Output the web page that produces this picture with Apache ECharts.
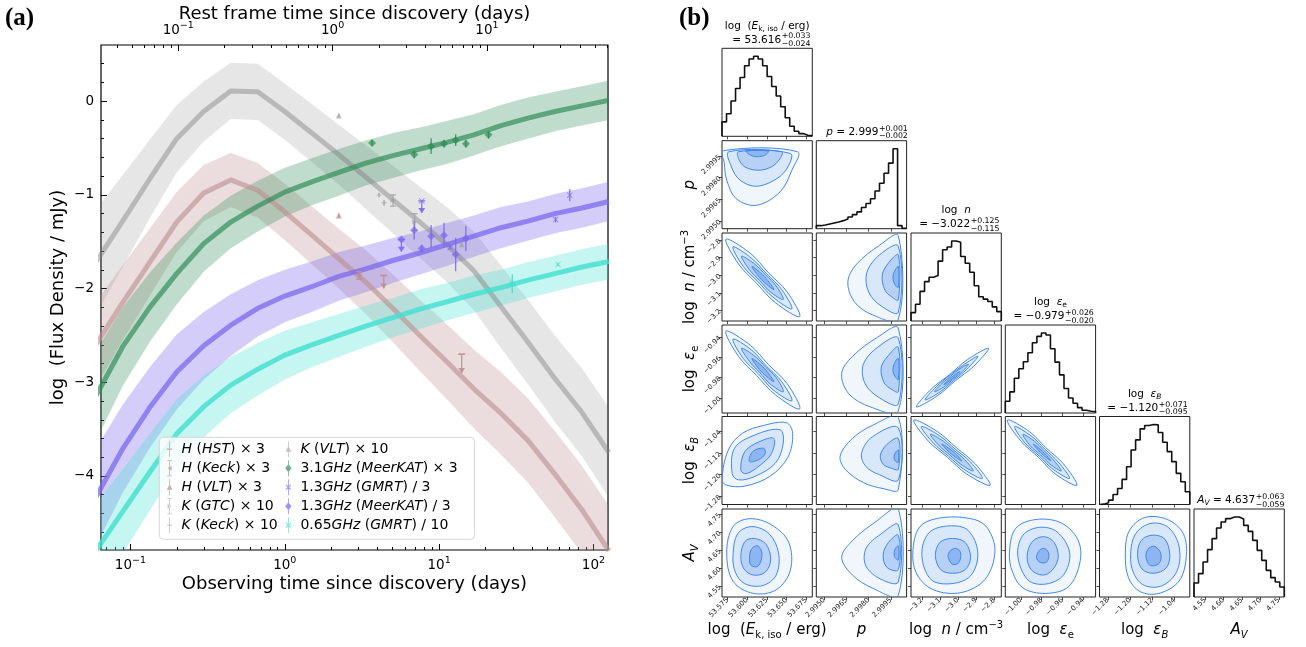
<!DOCTYPE html>
<html><head><meta charset="utf-8">
<script src="https://cdn.jsdelivr.net/npm/echarts@6/dist/echarts.min.js"></script>
<style>html,body{margin:0;padding:0;background:#fff}#c{width:1306px;height:647px}</style>
</head><body><div id="c"></div><script>
const FONT = '"DejaVu Sans", Verdana, sans-serif';

// ================= Panel (a) data =================
const modelTimes = [0.0596, 0.0891, 0.1334, 0.1995, 0.2985, 0.4467, 0.6683, 1.0, 1.496, 2.239, 3.350, 5.012, 7.499, 11.22, 16.79, 25.12, 37.58, 56.23, 84.14, 125.9];
const modelK   = [-1.72, -1.28, -0.83, -0.40, -0.11, 0.11, 0.10, -0.11, -0.34, -0.57, -0.81, -1.05, -1.29, -1.53, -1.81, -2.19, -2.57, -2.96, -3.32, -3.75];
const spreadK  = [0.56, 0.49, 0.42, 0.36, 0.32, 0.30, 0.30, 0.30, 0.31, 0.32, 0.34, 0.36, 0.38, 0.40, 0.42, 0.44, 0.45, 0.46, 0.47, 0.48];
const modelH   = [-2.60, -2.15, -1.72, -1.29, -0.98, -0.84, -0.95, -1.18, -1.43, -1.68, -1.93, -2.21, -2.50, -2.78, -3.07, -3.33, -3.62, -3.98, -4.36, -4.80];
const spreadH  = [0.45, 0.40, 0.36, 0.32, 0.30, 0.29, 0.29, 0.30, 0.31, 0.32, 0.34, 0.36, 0.38, 0.40, 0.42, 0.44, 0.45, 0.46, 0.47, 0.48];
const model31  = [-3.15, -2.62, -2.20, -1.84, -1.52, -1.29, -1.12, -0.97, -0.86, -0.76, -0.66, -0.58, -0.51, -0.44, -0.36, -0.26, -0.18, -0.11, -0.05, 0.01];
const spread31 = [0.48, 0.42, 0.37, 0.33, 0.30, 0.28, 0.27, 0.26, 0.25, 0.25, 0.24, 0.24, 0.23, 0.23, 0.22, 0.22, 0.22, 0.21, 0.21, 0.21];
const model13  = [-4.23, -3.71, -3.27, -2.89, -2.61, -2.39, -2.21, -2.08, -1.98, -1.87, -1.79, -1.70, -1.62, -1.53, -1.44, -1.35, -1.28, -1.20, -1.14, -1.07];
const spread13 = [0.52, 0.47, 0.43, 0.40, 0.36, 0.33, 0.30, 0.28, 0.27, 0.26, 0.25, 0.24, 0.23, 0.23, 0.22, 0.22, 0.21, 0.21, 0.21, 0.21];
const model065 = [-4.80, -4.38, -3.96, -3.55, -3.26, -3.03, -2.86, -2.71, -2.60, -2.50, -2.40, -2.31, -2.22, -2.14, -2.06, -1.99, -1.91, -1.84, -1.77, -1.71];
const spread065= [0.50, 0.45, 0.41, 0.37, 0.33, 0.30, 0.28, 0.26, 0.24, 0.23, 0.22, 0.21, 0.21, 0.20, 0.20, 0.19, 0.19, 0.19, 0.19, 0.19];

// observed points: t (days), v (log mJy), e (error / arrow length), ul (upper limit)
const ptsHHST   = {t:[4.38, 14.0], v:[-1.86, -2.70], e:[0.14, 0.20], ul:[1, 1]};
const ptsHKeck  = {t:[3.03], v:[-1.86], e:[0.04], ul:[0]};
const ptsHVLT   = {t:[2.24], v:[-1.22], e:[0.02], ul:[0]};
const ptsKGTC   = {t:[5.03, 6.95], v:[-1.06, -1.29], e:[0.06, 0.09], ul:[0, 0]};
const ptsKKeck  = {t:[3.03, 4.08, 4.40], v:[-0.76, -1.00, -1.085], e:[0.02, 0.02, 0.03], ul:[0, 0, 0]};
const ptsKVLT   = {t:[2.24, 14.0], v:[-0.153, -1.526], e:[0.02, 0.02], ul:[0, 0]};
const ptsMK31   = {t:[3.68, 6.90, 8.88, 10.76, 12.8, 14.9, 20.9], v:[-0.445, -0.569, -0.480, -0.455, -0.416, -0.455, -0.359], e:[0.03, 0.04, 0.084, 0.04, 0.063, 0.04, 0.04], ul:[0,0,0,0,0,0,0]};
const ptsGM13   = {t:[7.72, 11.8, 56.8, 70.2], v:[-1.064, -1.562, -1.263, -1.003], e:[0.13, 0.02, 0.03, 0.066], ul:[1, 0, 0, 0]};
const ptsMK13   = {t:[5.70, 6.90, 7.72, 8.88, 10.76, 12.8, 14.9], v:[-1.476, -1.377, -1.572, -1.441, -1.430, -1.636, -1.466], e:[0.13, 0.099, 0.04, 0.12, 0.133, 0.18, 0.133], ul:[1,0,0,0,0,0,0]};
const ptsGM065  = {t:[29.8, 58.9], v:[-1.946, -1.743], e:[0.10, 0.02], ul:[0, 0]};

const xMajorBottom = [0.1, 1, 10, 100];
const xMinorBottom = [0.07,0.08,0.09,0.2,0.3,0.4,0.5,0.6,0.7,0.8,0.9,2,3,4,5,6,7,8,9,20,30,40,50,60,70,80,90];
const xMajorTop = [0.1, 1, 10];
const xMinorTop = [0.04,0.05,0.06,0.07,0.08,0.09,0.2,0.3,0.4,0.5,0.6,0.7,0.8,0.9,2,3,4,5,6,7,8,9,20,30,40,50,60];
const yMajor = [-4, -3, -2, -1, 0];
const yMinor = [-4.6,-4.4,-4.2,-3.8,-3.6,-3.4,-3.2,-2.8,-2.6,-2.4,-2.2,-1.8,-1.6,-1.4,-1.2,-0.8,-0.6,-0.4,-0.2,0.2,0.4];

const legendNames = ['H (HST) × 3','H (Keck) × 3','H (VLT) × 3','K (GTC) × 10','K (Keck) × 10','K (VLT) × 10','3.1GHz (MeerKAT) × 3','1.3GHz (GMRT) / 3','1.3GHz (MeerKAT) / 3','0.65GHz (GMRT) / 10'];
const legendRich = ['{i|H} ({i|HST}) × 3','{i|H} ({i|Keck}) × 3','{i|H} ({i|VLT}) × 3','{i|K} ({i|GTC}) × 10','{i|K} ({i|Keck}) × 10','{i|K} ({i|VLT}) × 10','3.1{i|GHz} ({i|MeerKAT}) × 3','1.3{i|GHz} ({i|GMRT}) / 3','1.3{i|GHz} ({i|MeerKAT}) / 3','0.65{i|GHz} ({i|GMRT}) / 10'];

// ================= Panel (b) data =================
const rangeE=[53.568,53.683], rangeP=[2.99447,3.00056], rangeN=[-3.26,-2.76], rangeEe=[-1.015,-0.928], rangeEb=[-1.31,-0.985], rangeAv=[4.52,4.765];
const ticksE=[53.575,53.600,53.625,53.650,53.675], ticksP=[2.9950,2.9965,2.9980,2.9995], ticksN=[-3.2,-3.1,-3.0,-2.9,-2.8], ticksEe=[-1.00,-0.98,-0.96,-0.94], ticksEb=[-1.28,-1.20,-1.12,-1.04], ticksAv=[4.55,4.60,4.65,4.70,4.75];
const histE =[43,67,105,142,175,210,230,238,230,210,178,148,120,88,55,30,15,8,3,2];
const histP =[9,11,14,17,20,24,29,35,42,50,63,75,89,112,135,165,195,238,9,1];
const histN =[25,50,88,117,130,135,178,212,220,238,234,192,172,145,105,72,65,58,42,28];
const histEe=[35,63,104,132,153,180,210,229,239,233,192,152,114,73,45,29,16,8,5,4];
const histEb=[1,5,13,30,48,75,113,163,193,226,236,239,238,215,186,158,128,93,68,38];
const histAv=[42,70,105,142,175,207,225,235,240,240,234,215,197,170,140,110,80,58,45,30];

const cont_p_E = [
 [[53.570,2.99987],[53.664,2.99980],[53.657,2.99852],[53.642,2.99702],[53.612,2.99609],[53.586,2.99655],[53.574,2.99783],[53.571,2.99898]],
 [[53.577,2.99980],[53.655,2.99968],[53.652,2.99875],[53.638,2.99794],[53.612,2.99741],[53.591,2.99783],[53.580,2.99875]],
 [[53.589,2.99980],[53.644,2.99980],[53.642,2.99933],[53.631,2.99875],[53.614,2.99852],[53.597,2.99875],[53.589,2.99933]],
 [[53.599,2.99984],[53.627,2.99984],[53.623,2.99957],[53.613,2.99945],[53.604,2.99957]]];
const cont_n_E = [
 [[53.573,-2.795],[53.604,-2.875],[53.627,-2.985],[53.651,-3.095],[53.667,-3.235],[53.636,-3.156],[53.612,-3.046],[53.589,-2.936]],
 [[53.582,-2.839],[53.606,-2.905],[53.625,-2.993],[53.644,-3.081],[53.657,-3.191],[53.633,-3.125],[53.614,-3.037],[53.595,-2.949]],
 [[53.593,-2.892],[53.610,-2.938],[53.624,-3.0],[53.637,-3.061],[53.646,-3.138],[53.629,-3.092],[53.616,-3.03],[53.603,-2.969]],
 [[53.606,-2.949],[53.622,-3.008],[53.634,-3.081],[53.618,-3.023]]];
const cont_ee_E = [
 [[53.573,-0.934],[53.604,-0.948],[53.627,-0.967],[53.651,-0.986],[53.667,-1.011],[53.636,-0.997],[53.612,-0.978],[53.589,-0.959]],
 [[53.582,-0.942],[53.606,-0.953],[53.625,-0.969],[53.644,-0.984],[53.657,-1.003],[53.633,-0.992],[53.614,-0.976],[53.595,-0.961]],
 [[53.593,-0.951],[53.610,-0.959],[53.624,-0.970],[53.637,-0.980],[53.646,-0.994],[53.629,-0.986],[53.616,-0.975],[53.603,-0.964]],
 [[53.606,-0.961],[53.622,-0.971],[53.634,-0.984],[53.618,-0.974]]];
const cont_eB_E = [
 [[53.568,-1.219],[53.576,-1.109],[53.594,-1.047],[53.621,-1.018],[53.650,-1.008],[53.658,-1.047],[53.652,-1.135],[53.629,-1.206],[53.597,-1.242],[53.574,-1.239]],
 [[53.581,-1.196],[53.584,-1.102],[53.610,-1.053],[53.642,-1.034],[53.646,-1.083],[53.636,-1.157],[53.610,-1.206],[53.589,-1.219]],
 [[53.592,-1.183],[53.597,-1.115],[53.615,-1.079],[53.634,-1.066],[53.631,-1.122],[53.617,-1.164],[53.599,-1.196]],
 [[53.603,-1.151],[53.607,-1.115],[53.621,-1.102],[53.623,-1.122],[53.615,-1.144]]];
const cont_AV_E = [
 [[53.574,4.643],[53.582,4.716],[53.603,4.738],[53.631,4.721],[53.653,4.672],[53.655,4.594],[53.637,4.540],[53.608,4.530],[53.582,4.564]],
 [[53.582,4.635],[53.588,4.696],[53.606,4.716],[53.628,4.696],[53.640,4.643],[53.637,4.581],[53.620,4.552],[53.597,4.557],[53.585,4.589]],
 [[53.592,4.633],[53.597,4.674],[53.609,4.683],[53.624,4.667],[53.630,4.623],[53.623,4.589],[53.608,4.581],[53.596,4.598]],
 [[53.603,4.628],[53.606,4.655],[53.614,4.662],[53.619,4.638],[53.614,4.606],[53.605,4.608]]];
const cont_n_p = [
 [[3.0,-2.775],[2.99873,-2.83],[2.99721,-2.935],[2.99660,-3.035],[2.99703,-3.15],[2.99825,-3.225],[3.0,-3.25]],
 [[3.0,-2.835],[2.99873,-2.885],[2.99788,-2.985],[2.99800,-3.095],[2.99885,-3.175],[3.0,-3.21]],
 [[3.0,-2.885],[2.99934,-2.93],[2.99892,-3.0],[2.99910,-3.085],[2.99959,-3.125],[3.0,-3.14]],
 [[3.0,-2.95],[2.99971,-2.985],[2.99965,-3.025],[2.99983,-3.06],[3.0,-3.07]]];
const cont_ee_p = [
 [[3.0,-0.931],[2.99861,-0.940],[2.99691,-0.959],[2.99618,-0.976],[2.99666,-0.996],[2.99812,-1.009],[3.0,-1.013]],
 [[3.0,-0.941],[2.99861,-0.950],[2.99764,-0.967],[2.99776,-0.986],[2.99873,-1.000],[3.0,-1.006]],
 [[3.0,-0.950],[2.99934,-0.958],[2.99885,-0.970],[2.99904,-0.985],[2.99959,-0.992],[3.0,-0.994]],
 [[3.0,-0.961],[2.99971,-0.967],[2.99965,-0.974],[2.99983,-0.980],[3.0,-0.982]]];
const cont_eB_p = [
 [[3.0,-0.988],[2.99825,-1.018],[2.99691,-1.066],[2.99608,-1.131],[2.99642,-1.180],[2.99764,-1.229],[2.99904,-1.252],[3.0,-1.255]],
 [[3.0,-1.027],[2.99825,-1.060],[2.99752,-1.122],[2.99782,-1.170],[2.99873,-1.200],[3.0,-1.219]],
 [[3.0,-1.066],[2.99922,-1.089],[2.99879,-1.128],[2.99898,-1.161],[2.99959,-1.177],[3.0,-1.180]],
 [[3.0,-1.109],[2.99977,-1.122],[2.99971,-1.138],[2.99983,-1.151],[3.0,-1.154]]];
const cont_AV_p = [
 [[3.0,4.765],[2.99843,4.728],[2.99691,4.677],[2.99618,4.630],[2.99691,4.581],[2.99825,4.545],[3.0,4.525]],
 [[3.0,4.721],[2.99885,4.696],[2.99782,4.655],[2.99782,4.606],[2.99885,4.569],[3.0,4.562]],
 [[3.0,4.692],[2.99934,4.672],[2.99898,4.638],[2.99922,4.603],[3.0,4.596]],
 [[3.0,4.662],[2.99977,4.652],[2.99974,4.633],[3.0,4.623]]];
const cont_ee_n = [
 [[-3.23,-1.009],[-3.146,-0.991],[-3.046,-0.977],[-2.946,-0.962],[-2.83,-0.951],[-2.914,-0.969],[-3.014,-0.983],[-3.114,-0.998]],
 [[-3.182,-1.002],[-3.12,-0.989],[-3.047,-0.978],[-2.974,-0.968],[-2.89,-0.959],[-2.952,-0.972],[-3.025,-0.983],[-3.098,-0.994]],
 [[-3.13,-0.994],[-3.09,-0.986],[-3.043,-0.979],[-2.996,-0.972],[-2.942,-0.967],[-2.982,-0.975],[-3.029,-0.982],[-3.076,-0.989]],
 [[-3.078,-0.987],[-3.038,-0.980],[-2.99,-0.974],[-3.03,-0.981]]];
const cont_eB_n = [
 [[-3.245,-0.998],[-3.115,-1.040],[-3.009,-1.100],[-2.904,-1.160],[-2.822,-1.239],[-2.953,-1.197],[-3.058,-1.136],[-3.164,-1.076]],
 [[-3.203,-1.022],[-3.10,-1.057],[-3.016,-1.105],[-2.931,-1.153],[-2.865,-1.214],[-2.967,-1.180],[-3.052,-1.132],[-3.136,-1.083]],
 [[-3.152,-1.051],[-3.081,-1.076],[-3.022,-1.110],[-2.963,-1.144],[-2.915,-1.186],[-2.986,-1.161],[-3.045,-1.127],[-3.104,-1.093]],
 [[-3.089,-1.087],[-3.028,-1.114],[-2.979,-1.149],[-3.039,-1.122]]];
const cont_AV_n = [
 [[-3.25,4.643],[-3.21,4.716],[-3.085,4.741],[-2.91,4.736],[-2.835,4.711],[-2.795,4.647],[-2.85,4.569],[-2.985,4.532],[-3.135,4.540],[-3.225,4.581]],
 [[-3.2,4.638],[-3.16,4.699],[-3.05,4.718],[-2.945,4.706],[-2.89,4.643],[-2.93,4.579],[-3.04,4.557],[-3.15,4.569]],
 [[-3.125,4.635],[-3.10,4.672],[-3.03,4.683],[-2.96,4.672],[-2.93,4.630],[-2.96,4.596],[-3.03,4.586],[-3.095,4.596]],
 [[-3.055,4.633],[-3.04,4.650],[-3.01,4.655],[-2.985,4.643],[-2.995,4.616],[-3.03,4.611]]];
const cont_eB_ee = [
 [[-1.013,-0.998],[-0.992,-1.040],[-0.976,-1.100],[-0.959,-1.160],[-0.946,-1.239],[-0.967,-1.197],[-0.983,-1.136],[-1.000,-1.076]],
 [[-1.006,-1.022],[-0.990,-1.057],[-0.977,-1.105],[-0.964,-1.153],[-0.953,-1.214],[-0.969,-1.180],[-0.982,-1.132],[-0.996,-1.083]],
 [[-0.998,-1.051],[-0.987,-1.076],[-0.978,-1.110],[-0.969,-1.144],[-0.961,-1.186],[-0.972,-1.161],[-0.981,-1.127],[-0.991,-1.093]],
 [[-0.988,-1.087],[-0.979,-1.114],[-0.971,-1.149],[-0.980,-1.122]]];
const cont_AV_ee = [
 [[-1.011,4.643],[-1.005,4.711],[-0.985,4.736],[-0.961,4.726],[-0.945,4.679],[-0.943,4.618],[-0.954,4.549],[-0.976,4.530],[-0.998,4.545],[-1.008,4.589]],
 [[-1.003,4.635],[-0.998,4.692],[-0.982,4.714],[-0.965,4.701],[-0.953,4.643],[-0.959,4.581],[-0.976,4.556],[-0.993,4.567]],
 [[-0.994,4.633],[-0.989,4.674],[-0.978,4.688],[-0.968,4.672],[-0.964,4.630],[-0.970,4.594],[-0.979,4.581],[-0.990,4.596]],
 [[-0.985,4.630],[-0.982,4.650],[-0.977,4.655],[-0.973,4.640],[-0.975,4.618],[-0.981,4.616]]];
const cont_AV_eB = [
 [[-1.217,4.643],[-1.203,4.704],[-1.148,4.741],[-1.066,4.736],[-1.008,4.696],[-0.998,4.630],[-1.024,4.564],[-1.096,4.530],[-1.164,4.535],[-1.206,4.574]],
 [[-1.198,4.638],[-1.180,4.696],[-1.125,4.725],[-1.063,4.714],[-1.024,4.662],[-1.030,4.594],[-1.083,4.552],[-1.148,4.552],[-1.187,4.586]],
 [[-1.173,4.638],[-1.160,4.677],[-1.121,4.692],[-1.076,4.682],[-1.057,4.638],[-1.070,4.601],[-1.115,4.586],[-1.157,4.598]],
 [[-1.143,4.635],[-1.131,4.657],[-1.109,4.660],[-1.089,4.640],[-1.096,4.613],[-1.128,4.608]]];

const histTitleName  = ['log  ({it|E}{sub|k, iso} / erg)', '', 'log  {it|n}', 'log  {it|ε}{sub|e}', 'log  {it|ε}{subi|B}', ''];
const histTitleMain  = ['= 53.616', '{it|p} = 2.999', '= −3.022', '= −0.979', '= −1.120', '{it|A}{subi|V} = 4.637'];
const histTitlePlus  = ['+0.033', '+0.001', '+0.125', '+0.026', '+0.071', '+0.063'];
const histTitleMinus = ['−0.024', '−0.002', '−0.115', '−0.020', '−0.095', '−0.059'];
const axisNames = ['log  ({it|E}{sub|k, iso} / erg)', '{it|p}', 'log  {it|n} / cm{sup|−3}', 'log  {it|ε}{sub|e}', 'log  {it|ε}{subi|B}', '{it|A}{subi|V}'];

// ================= build =================
const grids = [], xAxes = [], yAxes = [], series = [], graphics = [];
const minus = s => String(s).replace('-', '−');
const pow10 = v => '10{sup|' + minus(Math.round(Math.log10(v))) + '}';
const supRich = {sup: {fontSize: 9.5, lineHeight: 11, verticalAlign: 'top', fontFamily: FONT, color: '#000'}};

grids.push({left: 101, top: 45, width: 507, height: 505, show: true, borderColor: '#000', borderWidth: 1.2, outerBoundsMode: 'none'});
function logAxis(min, max, pos, vals, major, withLabel, name, gap) {
  return {gridIndex: 0, type: 'log', logBase: 10, min, max, position: pos,
    axisLine: {show: false, onZero: false}, splitLine: {show: false}, minorTick: {show: false},
    axisTick: {show: true, inside: true, length: major ? 6 : 3, customValues: vals, lineStyle: {color: '#000', width: 1}},
    axisLabel: {show: withLabel, customValues: vals, formatter: pow10, fontSize: 13.5, lineHeight: 18, color: '#000', margin: 6, fontFamily: FONT, rich: supRich},
    name: name || '', nameLocation: 'middle', nameGap: gap || 0, nameMoveOverlap: false,
    nameTextStyle: {fontSize: 18, color: '#000', fontFamily: FONT}};
}
xAxes.push(logAxis(0.0645, 124.2, 'bottom', xMajorBottom, true, true, 'Observing time since discovery (days)', 25));
xAxes.push(logAxis(0.0645, 124.2, 'bottom', xMinorBottom, false, false));
xAxes.push(logAxis(0.0316, 60.9, 'top', xMajorTop, true, true, 'Rest frame time since discovery (days)', 22));
xAxes.push(logAxis(0.0316, 60.9, 'top', xMinorTop, false, false));
yAxes.push({gridIndex: 0, type: 'value', min: -4.79, max: 0.60, position: 'left',
  axisLine: {show: false, onZero: false}, splitLine: {show: false},
  axisTick: {show: true, inside: true, length: 6, customValues: yMajor, lineStyle: {color: '#000'}},
  axisLabel: {customValues: yMajor, formatter: minus, fontSize: 13.5, color: '#000', margin: 7, fontFamily: FONT},
  name: 'log  (Flux Density / mJy)', nameLocation: 'middle', nameRotate: 90, nameGap: 34, nameMoveOverlap: false,
  nameTextStyle: {fontSize: 18, color: '#000', fontFamily: FONT}});
yAxes.push({gridIndex: 0, type: 'value', min: -4.79, max: 0.60, position: 'left',
  axisLine: {show: false, onZero: false}, splitLine: {show: false},
  axisTick: {show: true, inside: true, length: 3, customValues: yMinor, lineStyle: {color: '#000'}},
  axisLabel: {show: false}});

function band(model, spread, color) {
  return {type: 'custom', xAxisIndex: 0, yAxisIndex: 0, clip: true, silent: true, z: 1,
    data: [[1, 0]],
    renderItem(params, api) {
      const up = modelTimes.map((t, k) => api.coord([t, model[k] + spread[k]]));
      const lo = modelTimes.map((t, k) => api.coord([t, model[k] - spread[k]])).reverse();
      return {type: 'polygon', shape: {points: up.concat(lo)}, style: {fill: color}};
    }};
}
function curve(model, color) {
  return {type: 'line', xAxisIndex: 0, yAxisIndex: 0, data: modelTimes.map((t, k) => [t, model[k]]),
    showSymbol: false, symbol: 'none', silent: true, z: 2, lineStyle: {color, width: 5}};
}
function errs(d, color, caps) {
  return {type: 'custom', xAxisIndex: 0, yAxisIndex: 0, silent: true, z: 3, clip: true,
    data: d.t.map((t, i) => [t, d.v[i], d.e[i], d.ul[i]]),
    renderItem(params, api) {
      const t = api.value(0), v = api.value(1), e = api.value(2), ul = api.value(3);
      const ch = [];
      const st = {stroke: color, lineWidth: 1.3};
      if (ul) {
        const a = api.coord([t, v]), b = api.coord([t, v - e]);
        ch.push({type: 'line', shape: {x1: a[0], y1: a[1], x2: b[0], y2: b[1]}, style: st});
        ch.push({type: 'polygon', shape: {points: [[b[0] - 3.5, b[1] - 5], [b[0] + 3.5, b[1] - 5], [b[0], b[1]]]}, style: {fill: color}});
        ch.push({type: 'line', shape: {x1: a[0] - 3.5, y1: a[1], x2: a[0] + 3.5, y2: a[1]}, style: st});
      } else {
        const a = api.coord([t, v - e]), b = api.coord([t, v + e]);
        ch.push({type: 'line', shape: {x1: a[0], y1: a[1], x2: b[0], y2: b[1]}, style: st});
        if (caps) {
          ch.push({type: 'line', shape: {x1: a[0] - 3, y1: a[1], x2: a[0] + 3, y2: a[1]}, style: st});
          ch.push({type: 'line', shape: {x1: b[0] - 3, y1: b[1], x2: b[0] + 3, y2: b[1]}, style: st});
        }
      }
      return {type: 'group', children: ch};
    }};
}
const symX = 'path://M1,0L5,4L9,0L10,1L6,5L10,9L9,10L5,6L1,10L0,9L4,5L0,1Z';
const symPlus = 'path://M4,0H6V4H10V6H6V10H4V6H0V4H4Z';
function pts(name, d, color, symbol, size, rot) {
  return {type: 'scatter', name, xAxisIndex: 0, yAxisIndex: 0, z: 4, silent: true,
    data: d.t.map((t, i) => [t, d.v[i]]), symbol, symbolSize: size, symbolRotate: rot || 0,
    itemStyle: {color}};
}

const cGray = 'rgba(128,128,128,0.2)', cBrown = 'rgba(188,143,143,0.3)', cGreen = 'rgba(46,139,87,0.3)', cPurple = 'rgba(123,104,238,0.33)', cCyan = 'rgba(64,224,208,0.3)';
series.push(band(modelK, spreadK, cGray), band(modelH, spreadH, cBrown), band(model31, spread31, cGreen), band(model13, spread13, cPurple), band(model065, spread065, cCyan));
series.push(curve(modelK, 'rgba(128,128,128,0.45)'), curve(modelH, 'rgba(188,143,143,0.62)'), curve(model31, 'rgba(46,139,87,0.68)'), curve(model13, 'rgba(123,104,238,0.75)'), curve(model065, 'rgba(64,224,208,0.8)'));

const colH = 'rgba(188,143,143,0.9)', colK = 'rgba(160,160,160,0.8)', colG = 'rgba(46,139,87,0.85)', colP = 'rgba(123,104,238,0.9)', colC = 'rgba(64,224,208,0.9)';
series.push(errs(ptsHHST, colH, false), errs(ptsHKeck, colH, true), errs(ptsHVLT, colH, false),
  errs(ptsKGTC, colK, true), errs(ptsKKeck, colK, false), errs(ptsKVLT, colK, false),
  errs(ptsMK31, colG, false), errs(ptsGM13, colP, false), errs(ptsMK13, colP, false), errs(ptsGM065, colC, false));
series.push(pts(legendNames[0], ptsHHST, colH, 'rect', [6, 1.5]),
  pts(legendNames[1], ptsHKeck, colH, 'triangle', 5, 90),
  pts(legendNames[2], ptsHVLT, colH, 'triangle', 6),
  pts(legendNames[3], ptsKGTC, colK, 'triangle', 5, -90),
  pts(legendNames[4], ptsKKeck, colK, symPlus, 5),
  pts(legendNames[5], ptsKVLT, colK, 'triangle', 6),
  pts(legendNames[6], ptsMK31, colG, 'diamond', 8),
  pts(legendNames[7], ptsGM13, colP, symX, 6),
  pts(legendNames[8], ptsMK13, colP, 'diamond', 8),
  pts(legendNames[9], ptsGM065, colC, symX, 6));

const bar = 'M4.5,0h1v20h-1z ';
const capsP = 'M2,0h6v1h-6z M2,19h6v1h-6z ';
const legendIcons = [
  'path://' + bar + 'M1.5,9h7v1.5h-7z',
  'path://' + bar + capsP + 'M7.5,7v6l-5,-3z',
  'path://' + bar + 'M5,6l3.5,7h-7z',
  'path://' + bar + capsP + 'M2.5,7v6l5,-3z',
  'path://' + bar + 'M2,9.3h6v1.4h-6z',
  'path://' + bar + 'M5,6l3.5,7h-7z',
  'path://' + bar + 'M5,5l4,5l-4,5l-4,-5z',
  'path://' + bar + 'M1.5,7.5l1,-1l2.5,2.5l2.5,-2.5l1,1l-2.5,2.5l2.5,2.5l-1,1l-2.5,-2.5l-2.5,2.5l-1,-1l2.5,-2.5z',
  'path://' + bar + 'M5,5l4,5l-4,5l-4,-5z',
  'path://' + bar + 'M1.5,7.5l1,-1l2.5,2.5l2.5,-2.5l1,1l-2.5,2.5l2.5,2.5l-1,1l-2.5,-2.5l-2.5,2.5l-1,-1l2.5,-2.5z'];

// ---------- corner plot ----------
const ranges = [rangeE, rangeP, rangeN, rangeEe, rangeEb, rangeAv];
const ticks = [ticksE, ticksP, ticksN, ticksEe, ticksEb, ticksAv];
const digits = [3, 4, 1, 2, 2, 2];
const hists = [histE, histP, histN, histEe, histEb, histAv];
const contourMap = {
  '1,0': cont_p_E, '2,0': cont_n_E, '3,0': cont_ee_E, '4,0': cont_eB_E, '5,0': cont_AV_E,
  '2,1': cont_n_p, '3,1': cont_ee_p, '4,1': cont_eB_p, '5,1': cont_AV_p,
  '3,2': cont_ee_n, '4,2': cont_eB_n, '5,2': cont_AV_n,
  '4,3': cont_eB_ee, '5,3': cont_AV_ee, '5,4': cont_AV_eB};
const colX = [722, 816.3, 911, 1005.3, 1099.5, 1194], boxW = 90.3;
const rowY = [48.3, 140.7, 233, 325, 416.5, 509], boxH = 88;
const nameRich = {
  it: {fontStyle: 'italic', fontSize: 15, lineHeight: 20, fontFamily: FONT, color: '#000'},
  sub: {fontSize: 10, lineHeight: 11, verticalAlign: 'bottom', fontFamily: FONT, color: '#000'},
  subi: {fontSize: 10, fontStyle: 'italic', lineHeight: 11, verticalAlign: 'bottom', fontFamily: FONT, color: '#000'},
  sup: {fontSize: 10, lineHeight: 11, verticalAlign: 'top', fontFamily: FONT, color: '#000'}};
const titleRich = {
  it: {fontStyle: 'italic', fontSize: 10.5, lineHeight: 14, fontFamily: FONT, color: '#000'},
  sub: {fontSize: 7.5, lineHeight: 8, verticalAlign: 'bottom', fontFamily: FONT, color: '#000'},
  subi: {fontSize: 7.5, fontStyle: 'italic', lineHeight: 8, verticalAlign: 'bottom', fontFamily: FONT, color: '#000'}};
const fills = ['rgba(63,134,232,0.07)', 'rgba(63,134,232,0.13)', 'rgba(63,134,232,0.22)', 'rgba(63,134,232,0.36)'];
const fmt = d => v => minus(v.toFixed(d));

let gi = 1;
for (let i = 0; i < 6; i++) {
  for (let j = 0; j <= i; j++) {
    grids.push({left: colX[j], top: rowY[i], width: boxW, height: boxH, show: true, borderColor: '#222', borderWidth: 1, outerBoundsMode: 'none'});
    xAxes.push({gridIndex: gi, type: 'value', min: ranges[j][0], max: ranges[j][1],
      axisLine: {show: false, onZero: false}, splitLine: {show: false},
      axisTick: {show: true, inside: false, length: 3, customValues: ticks[j], lineStyle: {color: '#222', width: 0.8}},
      axisLabel: {show: i === 5, customValues: ticks[j], rotate: 45, fontSize: 7, color: '#222', margin: 2, formatter: fmt(digits[j]), fontFamily: FONT},
      name: i === 5 ? axisNames[j] : '', nameLocation: 'middle', nameGap: 23, nameMoveOverlap: false,
      nameTextStyle: {fontSize: 15, lineHeight: 20, color: '#000', fontFamily: FONT, rich: nameRich}});
    const xi = xAxes.length - 1;
    if (i === j) {
      yAxes.push({gridIndex: gi, type: 'value', min: 0, max: v => v.max * 1.1, show: false, axisLine: {onZero: false}});
      const lo = ranges[j][0], hi = ranges[j][1], nb = hists[j].length;
      const edge = k => lo + (hi - lo) * k / nb;
      const data = [[edge(0), 0]].concat(hists[j].map((c, k) => [edge(k), c]), [[edge(nb), hists[j][nb - 1]], [edge(nb), 0]]);
      series.push({type: 'line', xAxisIndex: xi, yAxisIndex: yAxes.length - 1, data, step: 'end', showSymbol: false, symbol: 'none', silent: true,
        lineStyle: {color: '#111', width: 1.6}});
    } else {
      yAxes.push({gridIndex: gi, type: 'value', min: ranges[i][0], max: ranges[i][1],
        axisLine: {show: false, onZero: false}, splitLine: {show: false},
        axisTick: {show: true, inside: false, length: 3, customValues: ticks[i], lineStyle: {color: '#222', width: 0.8}},
        axisLabel: {show: j === 0, customValues: ticks[i], rotate: 45, fontSize: 7, color: '#222', margin: 2, formatter: fmt(digits[i]), fontFamily: FONT},
        name: j === 0 ? axisNames[i] : '', nameLocation: 'middle', nameRotate: 90, nameGap: 22, nameMoveOverlap: false,
        nameTextStyle: {fontSize: 15, lineHeight: 20, color: '#000', fontFamily: FONT, rich: nameRich}});
      const polys = contourMap[i + ',' + j];
      const x0 = ranges[j][0], y0 = ranges[i][0];
      series.push({type: 'custom', xAxisIndex: xi, yAxisIndex: yAxes.length - 1, clip: true, silent: true,
        data: polys.map((p, k) => [x0, y0, k]),
        renderItem(params, api) {
          const k = api.value(2);
          const points = polys[k].map(p => api.coord(p));
          return {type: 'polygon', shape: {points, smooth: 0.35}, style: {fill: fills[k], stroke: '#4088ea', lineWidth: 1}};
        }});
    }
    gi++;
  }
}

// histogram titles
for (let j = 0; j < 6; j++) {
  const top = rowY[j], cx = colX[j] + boxW / 2;
  const anchor = cx + [14, 17, 14, 14, 13.6, 16][j];
  if (histTitleName[j]) {
    graphics.push({type: 'text', x: cx, y: top - 22.5, silent: true, style: {text: histTitleName[j], font: '10.5px ' + FONT, fill: '#000', align: 'center', verticalAlign: 'middle', lineHeight: 14, rich: titleRich}});
  }
  graphics.push({type: 'text', x: anchor, y: top - 8.5, silent: true, style: {text: histTitleMain[j], font: '10.5px ' + FONT, fill: '#000', align: 'right', verticalAlign: 'middle', lineHeight: 14, rich: titleRich}});
  graphics.push({type: 'text', x: anchor + 0.5, y: top - 12, silent: true, style: {text: histTitlePlus[j], font: '7.8px ' + FONT, fill: '#000', align: 'left', verticalAlign: 'middle'}});
  graphics.push({type: 'text', x: anchor + 0.5, y: top - 4.3, silent: true, style: {text: histTitleMinus[j], font: '7.8px ' + FONT, fill: '#000', align: 'left', verticalAlign: 'middle'}});
}
graphics.push({type: 'text', x: 5, y: 6, silent: true, style: {text: '(a)', font: 'bold 25px "Liberation Serif", "DejaVu Serif", serif', fill: '#000'}});
graphics.push({type: 'text', x: 679, y: 6, silent: true, style: {text: '(b)', font: 'bold 25px "Liberation Serif", "DejaVu Serif", serif', fill: '#000'}});

const option = {
  animation: false,
  backgroundColor: '#fff',
  textStyle: {fontFamily: FONT},
  grid: grids, xAxis: xAxes, yAxis: yAxes, series, graphic: graphics,
  legend: {
    left: 159.3, top: 437.3, orient: 'vertical', height: 100, itemGap: 0, itemWidth: 14, itemHeight: 16,
    padding: [2.5, 14, 4.5, 7.5], backgroundColor: 'rgba(255,255,255,0.8)', borderColor: '#d6d6d6', borderWidth: 1, borderRadius: 4,
    selectedMode: false, symbolKeepAspect: true,
    textStyle: {fontSize: 14, fontFamily: FONT, color: '#000', lineHeight: 19, width: 104, overflow: 'none',
      rich: {i: {fontStyle: 'italic', fontSize: 14, fontFamily: FONT, color: '#000', lineHeight: 19}}},
    formatter: name => legendRich[legendNames.indexOf(name)],
    data: legendNames.map((n, k) => ({name: n, icon: legendIcons[k], textStyle: k >= 5 ? {width: 160} : {width: 104}}))
  }
};
const chart = echarts.init(document.getElementById('c'), null, {renderer: 'canvas', width: 1306, height: 647});
chart.setOption(option);
</script></body></html>
